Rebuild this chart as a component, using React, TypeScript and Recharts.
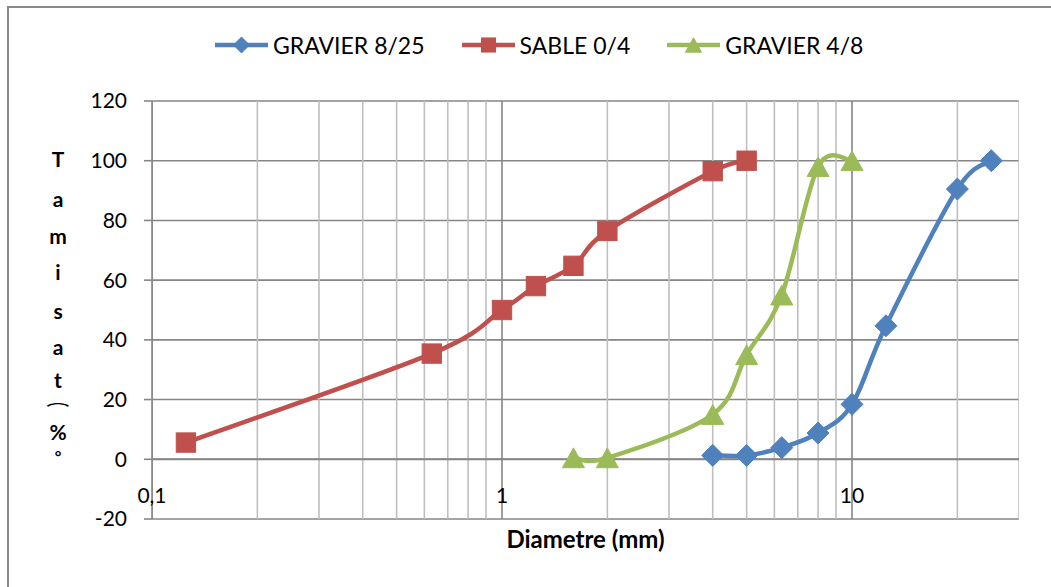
import React from 'react';
import { LineChart, Line, XAxis, YAxis, CartesianGrid, ReferenceLine, Legend } from 'recharts';

// ---- data ----
const gravier825X = [4, 5, 6.3, 8, 10, 12.5, 20, 25];
const gravier825Y = [1.3, 1.3, 3.9, 8.8, 18.4, 44.7, 90.5, 100];
const sable04X = [0.125, 0.63, 1, 1.25, 1.6, 2, 4, 5];
const sable04Y = [5.6, 35.4, 50, 58, 64.8, 76.5, 96.5, 100];
const gravier48X = [1.6, 2, 4, 5, 6.3, 8, 10];
const gravier48Y = [0.5, 0.5, 15, 35, 55, 98, 100];

const seriesNames = ['GRAVIER 8/25', 'SABLE 0/4', 'GRAVIER 4/8'];
const seriesColors = ['#4F81BD', '#C0504D', '#9BBB59'];
const seriesShapes = ['diamond', 'square', 'triangle'];

const xMajorTicks = [0.1, 1, 10];
const xMinorTicks = [0.2, 0.3, 0.4, 0.5, 0.6, 0.7, 0.8, 0.9, 2, 3, 4, 5, 6, 7, 8, 9, 20, 30];
const yTicks = [-20, 0, 20, 40, 60, 80, 100, 120];
const yTitleChars = ['T', 'a', 'm', 'i', 's', 'a', 't', '\uFE35', '%', '°'];
const xTitle = 'Diametre (mm)';

const zip = (xs: number[], ys: number[]) => xs.map((x, i) => ({ x, y: ys[i] }));
const gravier825 = zip(gravier825X, gravier825Y);
const sable04 = zip(sable04X, sable04Y);
const gravier48 = zip(gravier48X, gravier48Y);

const FONT = 'Lato, "Liberation Sans", Arial, sans-serif';
const MAJOR = '#868686';
const MINOR = '#BFBFBF';

// Excel-like smoothed line (Catmull-Rom -> Bezier)
function excelCurve(context: any) {
  let pts: number[][] = [];
  return {
    areaStart() {},
    areaEnd() {},
    lineStart() {
      pts = [];
    },
    point(x: number, y: number) {
      pts.push([+x, +y]);
    },
    lineEnd() {
      const n = pts.length;
      if (!n) return;
      context.moveTo(pts[0][0], pts[0][1]);
      for (let i = 0; i < n - 1; i++) {
        const p0 = pts[Math.max(i - 1, 0)];
        const p1 = pts[i];
        const p2 = pts[i + 1];
        const p3 = pts[Math.min(i + 2, n - 1)];
        context.bezierCurveTo(
          p1[0] + (p2[0] - p0[0]) / 6,
          p1[1] + (p2[1] - p0[1]) / 6,
          p2[0] - (p3[0] - p1[0]) / 6,
          p2[1] - (p3[1] - p1[1]) / 6,
          p2[0],
          p2[1]
        );
      }
    },
  };
}

function Marker({ shape, cx, cy, color, s }: any) {
  if (cx == null || cy == null || isNaN(cx) || isNaN(cy)) return null;
  if (shape === 'diamond') {
    return <path d={`M${cx},${cy - s}L${cx + s},${cy}L${cx},${cy + s}L${cx - s},${cy}Z`} fill={color} stroke={color} strokeWidth={1} />;
  }
  if (shape === 'square') {
    const h = s * 0.88;
    return <rect x={cx - h} y={cy - h} width={2 * h} height={2 * h} fill={color} stroke={color} strokeWidth={1} />;
  }
  const w = s;
  const hh = s * 0.9;
  return <path d={`M${cx},${cy - hh}L${cx + w},${cy + hh}L${cx - w},${cy + hh}Z`} fill={color} stroke={color} strokeWidth={1} />;
}

const makeDot = (idx: number) => (props: any) => (
  <Marker key={`m-${idx}-${props.index}`} shape={seriesShapes[idx]} cx={props.cx} cy={props.cy} color={seriesColors[idx]} s={11} />
);

const LegendContent = () => (
  <div style={{ height: 76, width: 1051, position: 'relative' }}>
    <div
      style={{
        position: 'absolute',
        left: 215,
        top: 0,
        height: 40,
        display: 'flex',
        alignItems: 'center',
        fontFamily: FONT,
        fontSize: 23,
        color: '#000',
        whiteSpace: 'nowrap',
      }}
    >
      {seriesNames.map((name, i) => (
        <div key={name} style={{ display: 'flex', alignItems: 'center', marginRight: 37 }}>
          <svg width={53} height={20} style={{ display: 'block' }}>
            <line x1={0} y1={10} x2={53} y2={10} stroke={seriesColors[i]} strokeWidth={4.5} />
            <Marker shape={seriesShapes[i]} cx={26.5} cy={10} color={seriesColors[i]} s={8} />
          </svg>
          <span style={{ marginLeft: 5 }}>{name}</span>
        </div>
      ))}
    </div>
  </div>
);

const XTick = ({ x, y, payload }: any) => (
  <text x={x} y={y - 16} textAnchor="middle" fontFamily={FONT} fontSize={21} fill="#000">
    {String(payload.value).replace('.', ',')}
  </text>
);

const XTitle = ({ viewBox }: any) => {
  const vb = viewBox || { x: 152, y: 519, width: 867, height: 30 };
  return (
    <text x={vb.x + vb.width / 2} y={vb.y + 29} textAnchor="middle" fontFamily={FONT} fontSize={24} fontWeight="bold" fill="#000">
      {xTitle}
    </text>
  );
};

// baseline offsets (from plot top), font sizes and horizontal stretch for the stacked y title
const yBaselines = [66, 106, 143, 179, 218, 254, 287, 305, 339, 361];
const ySizes = [21, 21, 21, 21, 21, 21, 21, 12, 21, 16];
const yStretch = [1, 1, 1, 1, 1, 1, 1, 1.9, 1, 1];
const YTitle = ({ viewBox }: any) => {
  const vb = viewBox || { x: 92, y: 101, width: 60, height: 418 };
  return (
    <g>
      {yTitleChars.map((c, i) => (
        <text
          key={i}
          x={0}
          y={0}
          transform={`translate(58, ${vb.y + yBaselines[i]}) scale(${yStretch[i]}, 1)`}
          textAnchor="middle"
          fontSize={ySizes[i]}
          fontWeight="bold"
          fill="#000"
          fontFamily={c === '\uFE35' ? '"Noto Sans CJK SC", sans-serif' : FONT}
        >
          {c}
        </text>
      ))}
    </g>
  );
};

export default function App() {
  return (
    <div style={{ position: 'absolute', left: 0, top: 0, width: 1051, height: 587, overflow: 'hidden', background: '#fff' }}>
      <div
        style={{
          position: 'absolute',
          left: 7,
          top: 6,
          width: 1100,
          height: 700,
          borderLeft: '2px solid #898989',
          borderTop: '2px solid #898989',
        }}
      />
      <LineChart
        width={1051}
        height={587}
        margin={{ top: 25, right: 32, left: 92, bottom: 38 }}
        style={{ position: 'absolute', left: 0, top: 0 }}
      >
        <CartesianGrid vertical={false} stroke={MAJOR} strokeWidth={1.6} strokeOpacity={1} />
        {xMinorTicks.map((v) => (
          <ReferenceLine key={`mi-${v}`} x={v} stroke={MINOR} strokeWidth={1.6} ifOverflow="hidden" />
        ))}
        {xMajorTicks.map((v) => (
          <ReferenceLine key={`ma-${v}`} x={v} stroke={MAJOR} strokeWidth={1.6} ifOverflow="hidden" />
        ))}
        <ReferenceLine y={0} stroke={MAJOR} strokeWidth={2} />
        <XAxis
          type="number"
          dataKey="x"
          scale="log"
          domain={[0.1, 30]}
          allowDataOverflow
          ticks={xMajorTicks}
          tickLine={false}
          axisLine={false}
          tickSize={0}
          tickMargin={0}
          height={30}
          tick={<XTick />}
          label={{ content: <XTitle /> }}
        />
        <YAxis
          type="number"
          domain={[-20, 120]}
          ticks={yTicks}
          width={60}
          tickSize={8}
          tickMargin={17}
          axisLine={{ stroke: MAJOR, strokeWidth: 1.6 }}
          tickLine={{ stroke: MAJOR, strokeWidth: 1.6 }}
          tick={{ fontFamily: FONT, fontSize: 21, fill: '#000' }}
          label={{ content: <YTitle /> }}
        />
        <Legend verticalAlign="top" align="left" content={<LegendContent />} wrapperStyle={{ left: 0, top: 25, width: 1051 }} />
        <Line
          data={gravier825}
          dataKey="y"
          name={seriesNames[0]}
          type={excelCurve as any}
          stroke={seriesColors[0]}
          strokeWidth={4.5}
          dot={makeDot(0)}
          activeDot={false}
          isAnimationActive={false}
        />
        <Line
          data={sable04}
          dataKey="y"
          name={seriesNames[1]}
          type={excelCurve as any}
          stroke={seriesColors[1]}
          strokeWidth={4.5}
          dot={makeDot(1)}
          activeDot={false}
          isAnimationActive={false}
        />
        <Line
          data={gravier48}
          dataKey="y"
          name={seriesNames[2]}
          type={excelCurve as any}
          stroke={seriesColors[2]}
          strokeWidth={4.5}
          dot={makeDot(2)}
          activeDot={false}
          isAnimationActive={false}
        />
      </LineChart>
    </div>
  );
}
